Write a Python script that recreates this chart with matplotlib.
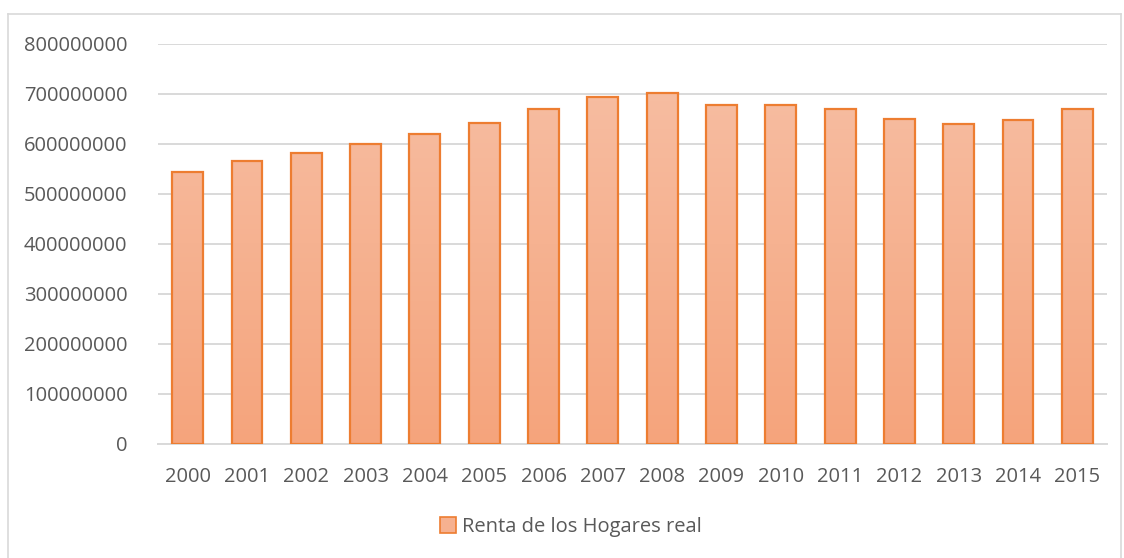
import numpy as np
import matplotlib.pyplot as plt
from matplotlib.patches import Rectangle
from matplotlib.lines import Line2D

# datos
years = ['2000', '2001', '2002', '2003', '2004', '2005', '2006', '2007',
         '2008', '2009', '2010', '2011', '2012', '2013', '2014', '2015']
renta = [544e6, 566e6, 582e6, 600e6, 619e6, 642e6, 669e6, 694e6,
         702e6, 677e6, 677e6, 670e6, 650e6, 640e6, 648e6, 670e6]
yticks = [0, 100000000, 200000000, 300000000, 400000000,
          500000000, 600000000, 700000000, 800000000]
series_name = 'Renta de los Hogares real'

plt.rcParams['font.family'] = ['Open Sans', 'DejaVu Sans']
text_color = '#595959'
edge_color = '#ED7D31'

W, H = 1124, 558
fig = plt.figure(figsize=(W / 100, H / 100), dpi=100)

# marco del gráfico
fig.add_artist(Line2D([8 / W, 8 / W], [0, 1 - 14 / H], transform=fig.transFigure,
                      color='#D9D9D9', lw=1.2))
fig.add_artist(Line2D([8 / W, 1121 / W], [1 - 14 / H, 1 - 14 / H], transform=fig.transFigure,
                      color='#D9D9D9', lw=1.2))
fig.add_artist(Line2D([1121 / W, 1121 / W], [0, 1 - 14 / H], transform=fig.transFigure,
                      color='#D9D9D9', lw=1.2))

left, right = 158 / W, 1107 / W
top, bottom = 1 - 43.5 / H, 1 - 443.7 / H
ax = fig.add_axes([left, bottom, right - left, top - bottom])

x = np.arange(len(years))
bars = ax.bar(x, renta, width=0.52, color='none', edgecolor=edge_color,
              linewidth=1.6, zorder=3)

# degradado vertical dentro de cada barra
grad = np.linspace(0, 1, 256).reshape(-1, 1)
top_c = np.array([247, 192, 166]) / 255
bot_c = np.array([245, 164, 124]) / 255
img = top_c * grad[..., None] + bot_c * (1 - grad[..., None])
for b in bars:
    im = ax.imshow(img, extent=[b.get_x(), b.get_x() + b.get_width(), 0, 800e6],
                   origin='lower', aspect='auto', zorder=2)
    im.set_clip_path(b)

ax.set_xlim(-0.5, len(years) - 0.5)
ax.set_ylim(0, 800e6)
ax.set_yticks(yticks)
ax.set_yticklabels([str(v) for v in yticks])
ax.set_xticks(x)
ax.set_xticklabels(years)
ax.tick_params(axis='both', length=0, labelsize=14.5, labelcolor=text_color)
ax.tick_params(axis='y', pad=22)
ax.tick_params(axis='x', pad=17)
ax.grid(axis='y', color='#D9D9D9', linewidth=1.4, zorder=0)
ax.set_axisbelow(True)
for s in ['top', 'right', 'left']:
    ax.spines[s].set_visible(False)
ax.spines['bottom'].set_color('#D9D9D9')
ax.spines['bottom'].set_linewidth(1.4)

handle = Rectangle((0, 0), 1, 1, facecolor='#F6B190', edgecolor=edge_color, linewidth=1.2)
fig.legend([handle], [series_name], loc='center', bbox_to_anchor=(571 / W, 1 - 527 / H),
           frameon=False, fontsize=14.5, labelcolor=text_color,
           handlelength=0.8, handleheight=0.8, handletextpad=0.3)

fig.savefig('out.png', dpi=100, facecolor='white')
